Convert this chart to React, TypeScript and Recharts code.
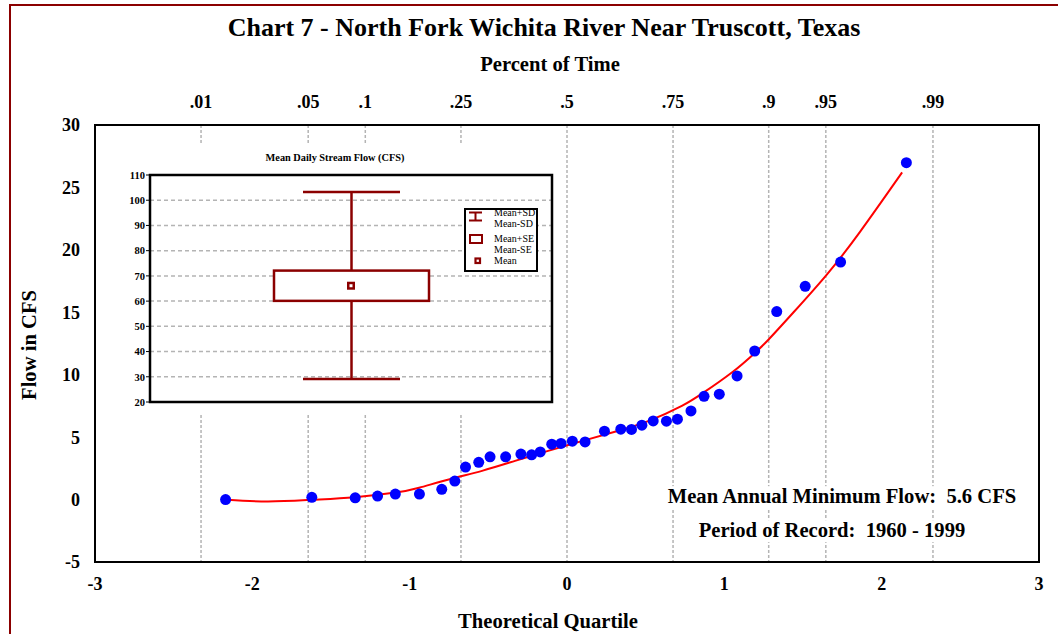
import React from 'react';
import {
  ComposedChart,
  Scatter,
  Line,
  Bar,
  XAxis,
  YAxis,
  CartesianGrid,
  ReferenceArea,
} from 'recharts';

// ---------- Main chart data ----------
const quartileTicks = [-3, -2, -1, 0, 1, 2, 3];
const innerQuartileTicks = [-2, -1, 0, 1, 2];
const percentLabels = ['.01', '.05', '.1', '.25', '.5', '.75', '.9', '.95', '.99'];
const percentZ = [-2.326, -1.645, -1.282, -0.674, 0, 0.674, 1.282, 1.645, 2.326];
const flowTicks = [-5, 0, 5, 10, 15, 20, 25, 30];
const innerFlowTicks = [0, 5, 10, 15, 20, 25];

// observed annual minimum flows vs theoretical quartile
const obsQuartile = [
  -2.17, -1.622, -1.346, -1.204, -1.091, -0.938, -0.796, -0.713, -0.645, -0.561,
  -0.489, -0.39, -0.293, -0.225, -0.17, -0.097, -0.038, 0.034, 0.115, 0.238,
  0.342, 0.41, 0.476, 0.548, 0.632, 0.702, 0.788, 0.871, 0.968, 1.081,
  1.193, 1.333, 1.514, 1.739, 2.157,
];
const obsFlow = [
  0.0, 0.18, 0.14, 0.28, 0.44, 0.44, 0.82, 1.48, 2.6, 2.98,
  3.42, 3.42, 3.64, 3.58, 3.82, 4.44, 4.5, 4.68, 4.62, 5.48,
  5.64, 5.62, 5.96, 6.3, 6.28, 6.44, 7.1, 8.27, 8.44, 9.9,
  11.9, 15.06, 17.08, 19.02, 26.98,
];

// fitted curve
const fitQuartile = [
  -2.16, -1.9, -1.62, -1.35, -1.09, -0.94, -0.74, -0.54, -0.33, -0.12, 0.1,
  0.31, 0.52, 0.73, 0.86, 1.05, 1.19, 1.28, 1.44, 1.65, 1.86, 2.13,
];
const fitFlow = [
  -0.02, -0.16, -0.02, 0.19, 0.56, 0.95, 1.65, 2.3, 3.1, 3.9, 4.7,
  5.45, 6.3, 7.5, 8.5, 10.2, 11.7, 12.8, 15.0, 18.0, 21.4, 26.2,
];

// ---------- Inset data ----------
const insetCategories = ['Flow'];
const insetMean = [66.1];
const insetSdLow = [29.1];
const insetSdHigh = [103.3];
const insetSeLow = [60.1];
const insetSeHigh = [72.1];
const insetTicks = [20, 30, 40, 50, 60, 70, 80, 90, 100, 110];
const insetInnerTicks = [30, 40, 50, 60, 70, 80, 90, 100];
const legendLabels = ['Mean+SD', 'Mean-SD', 'Mean+SE', 'Mean-SE', 'Mean'];

const obsData = obsQuartile.map((q, i) => ({ q, flow: obsFlow[i] }));
const fitData = fitQuartile.map((q, i) => ({ q, flow: fitFlow[i] }));
const insetData = insetCategories.map((name, i) => ({
  name,
  sd: [insetSdLow[i], insetSdHigh[i]],
  se: [insetSeLow[i], insetSeHigh[i]],
  mean: insetMean[i],
}));

const SERIF = "'Liberation Serif', 'Times New Roman', serif";
const DARK_RED = '#8b0000';

const TextAt = ({
  x, y, size, weight = 'bold', rotate = 0, bg, children,
}: any) => (
  <div
    style={{
      position: 'absolute',
      left: x,
      top: y,
      transform: `translate(-50%, -50%) rotate(${rotate}deg)`,
      fontFamily: SERIF,
      fontSize: size,
      fontWeight: weight,
      whiteSpace: 'pre',
      lineHeight: 1.05,
      color: '#000',
      background: bg,
    }}
  >
    {children}
  </div>
);

const WhiskerShape = (p: any) => {
  const { x, y, width, height } = p;
  const top = Math.min(y, y + height);
  const bot = Math.max(y, y + height);
  const cx = x + width / 2;
  return (
    <g stroke={DARK_RED} strokeWidth={2.5}>
      <line x1={cx} x2={cx} y1={top} y2={bot} />
      <line x1={x} x2={x + width} y1={top} y2={top} />
      <line x1={x} x2={x + width} y1={bot} y2={bot} />
    </g>
  );
};

const BoxShape = (p: any) => {
  const { x, y, width, height } = p;
  const top = Math.min(y, y + height);
  return (
    <rect
      x={x}
      y={top}
      width={width}
      height={Math.abs(height)}
      fill="#fff"
      stroke={DARK_RED}
      strokeWidth={2.5}
    />
  );
};

const MeanShape = (p: any) => (
  <rect
    x={p.cx - 2.75}
    y={p.cy - 2.75}
    width={5.5}
    height={5.5}
    fill="#fff"
    stroke={DARK_RED}
    strokeWidth={2.5}
  />
);

const DotShape = (p: any) => <circle cx={p.cx} cy={p.cy} r={5.5} fill="#0000ff" />;
const NoShape = () => <g />;

const tickStyle = { fill: '#000', fontSize: 18, fontWeight: 'bold', fontFamily: SERIF };
const insetTickStyle = { fill: '#000', fontSize: 10.5, fontWeight: 'bold', fontFamily: SERIF };

const legendRows = [3, 14, 29, 40, 51];

const Inset = () => (
  <div
    style={{
      position: 'absolute',
      left: 108,
      top: 145,
      width: 452,
      height: 270,
      background: '#fff',
    }}
  >
    <TextAt x={227} y={13} size={10.3}>Mean Daily Stream Flow (CFS)</TextAt>
    <ComposedChart
      width={452}
      height={270}
      data={insetData}
      margin={{ top: 30, right: 8, bottom: 13, left: 12 }}
    >
      <XAxis xAxisId="w" dataKey="name" type="category" hide />
      <XAxis xAxisId="b" dataKey="name" type="category" hide />
      <YAxis
        yAxisId="yi"
        type="number"
        domain={[20, 110]}
        allowDataOverflow
        ticks={insetTicks}
        interval={0}
        width={30}
        axisLine={false}
        tickLine={{ stroke: '#000', strokeWidth: 1 }}
        tickSize={4}
        tickMargin={1}
        tick={insetTickStyle}
      />
      <YAxis
        yAxisId="yiR"
        orientation="right"
        mirror
        type="number"
        domain={[20, 110]}
        allowDataOverflow
        ticks={insetInnerTicks}
        interval={0}
        width={4}
        axisLine={false}
        tick={false}
        tickLine={{ stroke: '#000', strokeWidth: 2 }}
        tickSize={3}
      />
      <CartesianGrid
        xAxisId="b"
        yAxisId="yi"
        vertical={false}
        stroke="#b4b4b4"
        strokeWidth={1.5}
        strokeDasharray="4 3"
      />
      <Scatter
        xAxisId="b"
        yAxisId="yiR"
        dataKey="mean"
        shape={NoShape}
        isAnimationActive={false}
      />
      <Bar
        xAxisId="w"
        yAxisId="yi"
        dataKey="sd"
        barSize={97}
        shape={WhiskerShape}
        isAnimationActive={false}
      />
      <Bar
        xAxisId="b"
        yAxisId="yi"
        dataKey="se"
        barSize={155}
        shape={BoxShape}
        isAnimationActive={false}
      />
      <Scatter
        xAxisId="b"
        yAxisId="yi"
        dataKey="mean"
        shape={MeanShape}
        isAnimationActive={false}
      />
      <ReferenceArea
        xAxisId="b"
        yAxisId="yi"
        y1={20}
        y2={110}
        fill="none"
        stroke="#000"
        strokeWidth={2.5}
        ifOverflow="visible"
      />
    </ComposedChart>
    {/* legend */}
    <div
      style={{
        position: 'absolute',
        left: 356,
        top: 63,
        width: 74,
        height: 64,
        border: '2px solid #000',
        boxSizing: 'border-box',
        background: '#fff',
      }}
    >
      <svg width={70} height={60} style={{ position: 'absolute', left: 0, top: 0 }}>
        <g stroke={DARK_RED} strokeWidth={2}>
          <line x1={3} x2={16} y1={2.5} y2={2.5} />
          <line x1={9.5} x2={9.5} y1={2.5} y2={10.5} />
          <line x1={3} x2={16} y1={10.5} y2={10.5} />
          <rect x={4} y={25} width={12} height={8} fill="#fff" />
          <rect x={9.5} y={48.5} width={4.5} height={4.5} fill="#fff" strokeWidth={2.2} />
        </g>
      </svg>
      {legendLabels.map((t, i) => (
        <div
          key={t}
          style={{
            position: 'absolute',
            left: 28,
            top: legendRows[i] - 6,
            fontFamily: SERIF,
            fontSize: 10,
            lineHeight: '12px',
            whiteSpace: 'pre',
            color: '#000',
          }}
        >
          {t}
        </div>
      ))}
    </div>
  </div>
);

export default function App() {
  return (
    <div
      style={{
        position: 'absolute',
        left: 0,
        top: 0,
        width: 1058,
        height: 634,
        overflow: 'hidden',
        background: '#fff',
        fontFamily: SERIF,
      }}
    >
      <div
        style={{
          position: 'absolute',
          left: 9,
          top: 4,
          width: 1200,
          height: 800,
          border: `2px solid ${DARK_RED}`,
        }}
      />
      <div style={{ position: 'absolute', left: 0, top: 0 }}>
        <ComposedChart
          width={1058}
          height={634}
          margin={{ top: 95, right: 19, bottom: 32, left: 35 }}
        >
          <XAxis
            xAxisId="xb"
            dataKey="q"
            type="number"
            orientation="bottom"
            domain={[-3, 3]}
            allowDataOverflow
            ticks={quartileTicks}
            interval={0}
            height={40}
            axisLine={false}
            tickLine={false}
            tickSize={0}
            tickMargin={15}
            tick={tickStyle}
          />
          <XAxis
            xAxisId="xbTicks"
            dataKey="q"
            type="number"
            orientation="bottom"
            mirror
            domain={[-3, 3]}
            allowDataOverflow
            ticks={innerQuartileTicks}
            interval={0}
            height={6}
            axisLine={false}
            tick={false}
            tickLine={{ stroke: '#000', strokeWidth: 2 }}
            tickSize={5}
          />
          <XAxis
            xAxisId="xt"
            dataKey="q"
            type="number"
            orientation="top"
            domain={[-3, 3]}
            allowDataOverflow
            ticks={percentZ}
            interval={0}
            height={30}
            axisLine={false}
            tickLine={false}
            tickSize={0}
            tickMargin={17}
            tick={tickStyle}
            tickFormatter={(v: number) => {
              const i = percentZ.findIndex((z) => Math.abs(z - v) < 1e-6);
              return i >= 0 ? percentLabels[i] : '';
            }}
          />
          <XAxis
            xAxisId="xtTicks"
            dataKey="q"
            type="number"
            orientation="top"
            mirror
            domain={[-3, 3]}
            allowDataOverflow
            ticks={innerQuartileTicks}
            interval={0}
            height={6}
            axisLine={false}
            tick={false}
            tickLine={{ stroke: '#000', strokeWidth: 2 }}
            tickSize={5}
          />
          <YAxis
            yAxisId="yl"
            dataKey="flow"
            type="number"
            domain={[-5, 30]}
            allowDataOverflow
            ticks={flowTicks}
            interval={0}
            width={60}
            axisLine={false}
            tickLine={false}
            tickSize={0}
            tickMargin={15}
            tick={tickStyle}
          />
          <YAxis
            yAxisId="ylTicks"
            dataKey="flow"
            type="number"
            mirror
            domain={[-5, 30]}
            allowDataOverflow
            ticks={innerFlowTicks}
            interval={0}
            width={6}
            axisLine={false}
            tick={false}
            tickLine={{ stroke: '#000', strokeWidth: 2 }}
            tickSize={5}
          />
          <YAxis
            yAxisId="yrTicks"
            dataKey="flow"
            type="number"
            orientation="right"
            mirror
            domain={[-5, 30]}
            allowDataOverflow
            ticks={innerFlowTicks}
            interval={0}
            width={6}
            axisLine={false}
            tick={false}
            tickLine={{ stroke: '#000', strokeWidth: 2 }}
            tickSize={5}
          />
          <CartesianGrid
            xAxisId="xt"
            yAxisId="yl"
            horizontal={false}
            stroke="#b4b4b4"
            strokeWidth={1.5}
            strokeDasharray="3 2"
          />
          {/* invisible carriers that give the decoration axes their data */}
          <Scatter
            xAxisId="xt"
            yAxisId="ylTicks"
            data={obsData}
            dataKey="flow"
            shape={NoShape}
            isAnimationActive={false}
          />
          <Scatter
            xAxisId="xtTicks"
            yAxisId="yrTicks"
            data={obsData}
            dataKey="flow"
            shape={NoShape}
            isAnimationActive={false}
          />
          <Scatter
            xAxisId="xbTicks"
            yAxisId="yl"
            data={obsData}
            dataKey="flow"
            shape={NoShape}
            isAnimationActive={false}
          />
          <Line
            xAxisId="xb"
            yAxisId="yl"
            data={fitData}
            dataKey="flow"
            type="natural"
            stroke="#ff0000"
            strokeWidth={2}
            dot={false}
            activeDot={false}
            isAnimationActive={false}
          />
          <Scatter
            xAxisId="xb"
            yAxisId="yl"
            data={obsData}
            dataKey="flow"
            shape={DotShape}
            isAnimationActive={false}
          />
          <ReferenceArea
            xAxisId="xb"
            yAxisId="yl"
            x1={-3}
            x2={3}
            y1={-5}
            y2={30}
            fill="none"
            stroke="#000"
            strokeWidth={2}
            ifOverflow="visible"
          />
        </ComposedChart>
      </div>
      <Inset />
      <TextAt x={544} y={28} size={26}>Chart 7 - North Fork Wichita River Near Truscott, Texas</TextAt>
      <TextAt x={550} y={65} size={20.6}>Percent of Time</TextAt>
      <TextAt x={30} y={345} size={20.6} rotate={-90}>Flow in CFS</TextAt>
      <TextAt x={548} y={622} size={20.6}>Theoretical Quartile</TextAt>
      <TextAt x={842} y={497} size={20.6} bg="#fff">Mean Annual Minimum Flow:  5.6 CFS</TextAt>
      <TextAt x={832} y={531} size={20.6} bg="#fff">Period of Record:  1960 - 1999</TextAt>
    </div>
  );
}
